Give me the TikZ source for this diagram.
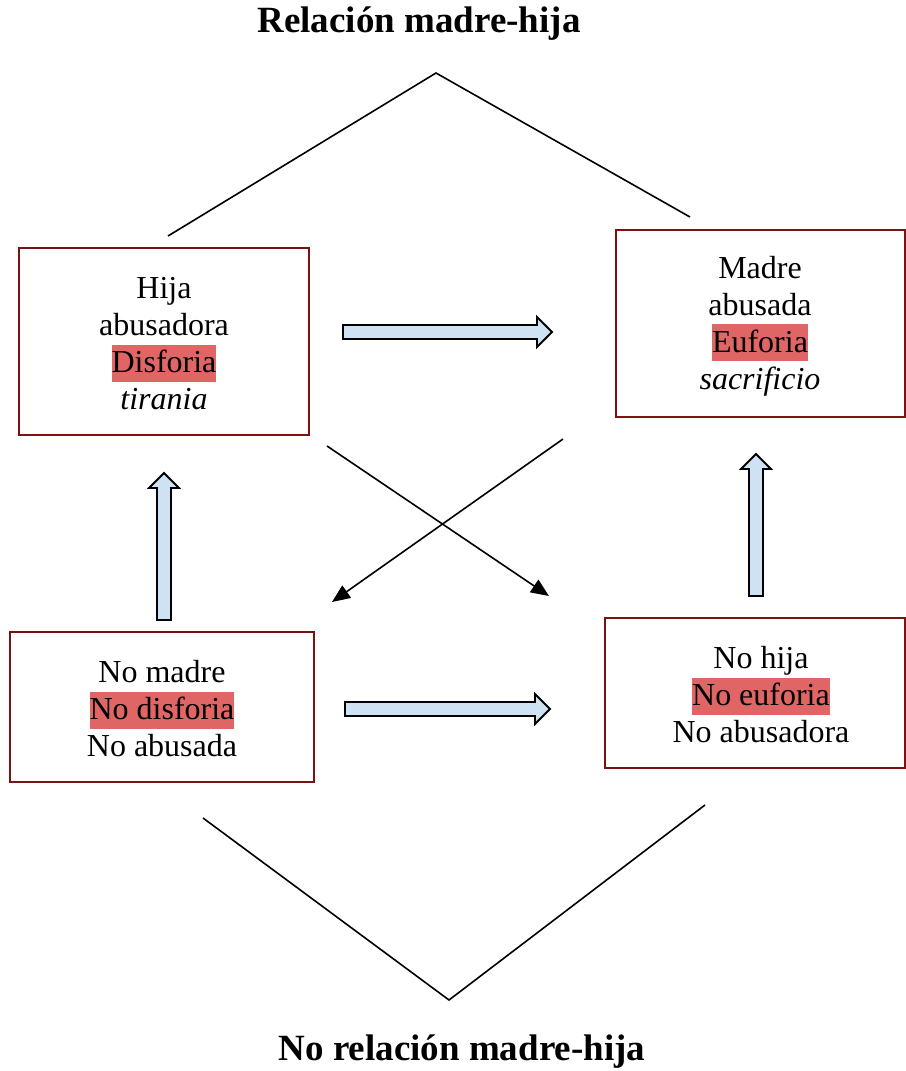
\documentclass[tikz,border=0pt]{standalone}
\usepackage{fontspec}
\setmainfont{Liberation Serif}
\usetikzlibrary{arrows.meta}
\definecolor{boxred}{RGB}{122,18,18}
\definecolor{hl}{RGB}{224,102,102}
\definecolor{arrblue}{RGB}{207,226,243}
\newcommand{\hlt}[1]{{\setlength{\fboxsep}{0pt}\colorbox{hl}{\rule[-9pt]{0pt}{37pt}#1}}}
\tikzset{
  statebox/.style={draw=boxred, line width=1.5pt, rectangle, inner sep=0pt},
  boxtext/.style={align=center, inner sep=0pt, font=\rmfamily\fontsize{32}{37}\selectfont},
  titletext/.style={font=\rmfamily\fontsize{37}{40}\selectfont\bfseries, inner sep=0pt},
  thinline/.style={line width=1.6pt},
  blockarr/.style={draw=black, line width=1.8pt, fill=arrblue, line join=miter},
  pics/barrow/.style={code={\draw[blockarr] (0,-7) -- ({#1-15},-7) -- ({#1-15},-15) -- (#1,0) -- ({#1-15},15) -- ({#1-15},7) -- (0,7) -- cycle;}}
}
\begin{document}
\begin{tikzpicture}[x=1pt,y=-1pt]
\useasboundingbox (0,0) rectangle (905,1071);
\node[titletext] (t1) at (419,24) {Relación madre-hija};
\node[titletext] (t2) at (462,1052) {No relación madre-hija};

\node[statebox, minimum width=290pt, minimum height=187pt] (ha) at (164,341.5) {};
\node[boxtext] (hat) at (164,344) {Hija\\abusadora\\\hlt{Disforia}\\\textit{tirania}};
\node[statebox, minimum width=289pt, minimum height=187pt] (ma) at (760.5,323.5) {};
\node[boxtext] (mat) at (760,326) {Madre\\abusada\\\hlt{Euforia}\\\textit{sacrificio}};
\node[statebox, minimum width=304pt, minimum height=150pt] (nm) at (162,707) {};
\node[boxtext] (nmt) at (162,709) {No madre\\\hlt{No disforia}\\No abusada};
\node[statebox, minimum width=300pt, minimum height=150pt] (nh) at (755,693) {};
\node[boxtext] (nht) at (761,695) {No hija\\\hlt{No euforia}\\No abusadora};

% top roof
\coordinate (r1) at (168,236);
\coordinate (rp) at (436,73);
\coordinate (r2) at (690,217);
\draw[thinline] (r1) -- (rp) -- (r2);
% bottom V
\coordinate (v1) at (203,818);
\coordinate (vp) at (449,1000);
\coordinate (v2) at (705,805);
\draw[thinline] (v1) -- (vp) -- (v2);

% cross arrows
\coordinate (c1s) at (327,446);
\coordinate (c1e) at (549,596);
\coordinate (c2s) at (563,439);
\coordinate (c2e) at (332,602);
\draw[thinline, -{Triangle[length=18pt,width=15pt]}] (c1s) -- (c1e);
\draw[thinline, -{Triangle[length=18pt,width=15pt]}] (c2s) -- (c2e);

% block arrows
\pic at (343,332) {barrow=209};
\pic at (345,709) {barrow=205};
\pic[rotate=90] at (164,620) {barrow=147};
\pic[rotate=90] at (756,596) {barrow=142};
\end{tikzpicture}
\end{document}
